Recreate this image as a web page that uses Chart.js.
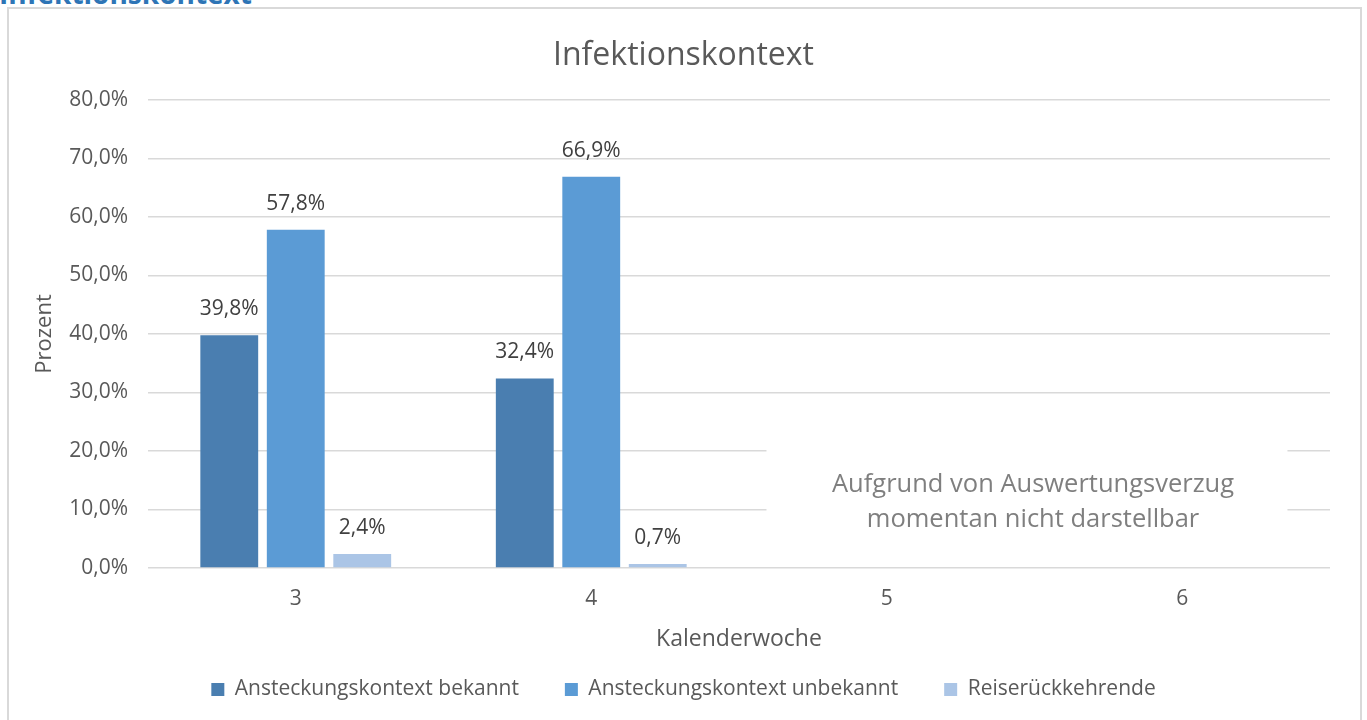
<!DOCTYPE html>
<html>
<head>
<meta charset="utf-8">
<script src="https://cdn.jsdelivr.net/npm/chart.js@4/dist/chart.umd.min.js"></script>
<style>
body{margin:0;background:#fff;overflow:hidden}
#wrap{position:relative;width:1367px;height:720px;overflow:hidden}
#frame{position:absolute;left:7px;top:7px;width:1355px;height:740px;border:2px solid #d9d9d9;box-sizing:border-box}
#head{position:absolute;left:-1px;top:-26px;font:bold 28px "Open Sans";color:#2e75b6;white-space:nowrap}
canvas{position:absolute;left:0;top:0}
</style>
</head>
<body>
<div id="wrap">
  <div id="frame"></div>
  <div id="head">Infektionskontext</div>
  <canvas id="infektion" width="1367" height="720"></canvas>
</div>
<script>
const weeks = ['3','4','5','6'];
const bekannt = [39.8, 32.4, null, null];
const unbekannt = [57.8, 66.9, null, null];
const reise = [2.4, 0.7, null, null];
const noteLines = ['Aufgrund von Auswertungsverzug', 'momentan nicht darstellbar'];

const pct = v => v.toFixed(1).replace('.', ',') + '%';
const font = '"Open Sans", sans-serif';

// labels above each bar
const barLabels = {
  id: 'barLabels',
  afterDatasetsDraw(chart) {
    const ctx = chart.ctx;
    ctx.save();
    ctx.font = '21px ' + font;
    ctx.fillStyle = '#404040';
    ctx.textAlign = 'center';
    ctx.textBaseline = 'middle';
    chart.data.datasets.forEach((ds, i) => {
      chart.getDatasetMeta(i).data.forEach((bar, j) => {
        if (ds.data[j] == null) return;
        ctx.fillText(pct(ds.data[j]), bar.x, bar.y - 26);
      });
    });
    ctx.restore();
  }
};

// white text box for weeks without data
const noteBox = {
  id: 'noteBox',
  beforeDatasetsDraw(chart) {
    const x = chart.scales.x, y = chart.scales.y, ctx = chart.ctx;
    const left = x.getPixelForValue(1.593), right = x.getPixelForValue(3.356);
    const top = y.getPixelForValue(25), bottom = y.getPixelForValue(2);
    ctx.save();
    ctx.fillStyle = '#fff';
    ctx.fillRect(left, top, right - left, bottom - top);
    ctx.font = '25.5px ' + font;
    ctx.fillStyle = '#7f7f7f';
    ctx.textAlign = 'center';
    ctx.textBaseline = 'middle';
    const cx = x.getPixelForValue(2.495);
    ctx.fillText(noteLines[0], cx, y.getPixelForValue(14.2));
    ctx.fillText(noteLines[1], cx, y.getPixelForValue(8.2));
    ctx.restore();
  }
};

new Chart(document.getElementById('infektion'), {
  type: 'bar',
  data: {
    labels: weeks,
    datasets: [
      {label: 'Ansteckungskontext bekannt', data: bekannt, backgroundColor: '#4a7eb0'},
      {label: 'Ansteckungskontext unbekannt', data: unbekannt, backgroundColor: '#5b9bd5'},
      {label: 'Reiserückkehrende', data: reise, backgroundColor: '#abc5e6'}
    ]
  },
  options: {
    responsive: false,
    animation: false,
    categoryPercentage: 0.675,
    barPercentage: 0.87,
    layout: {padding: {left: 37, right: 37, top: 10, bottom: 10}},
    plugins: {
      title: {
        display: true,
        text: 'Infektionskontext',
        color: '#595959',
        font: {family: font, size: 32, weight: 'normal'},
        padding: {top: 27, bottom: 24.6}
      },
      legend: {
        position: 'bottom',
        labels: {
          color: '#595959',
          font: {family: font, size: 21},
          boxWidth: 13,
          boxHeight: 13,
          padding: 46
        }
      },
      tooltip: {enabled: false}
    },
    scales: {
      x: {
        grid: {display: false},
        border: {display: false},
        ticks: {color: '#595959', font: {family: font, size: 21}, padding: 10},
        title: {
          display: true,
          text: 'Kalenderwoche',
          color: '#595959',
          font: {family: font, size: 23},
          padding: {top: 0, bottom: -19.8}
        },
        afterFit(scale) { scale.height = 65; }
      },
      y: {
        min: 0,
        max: 80,
        ticks: {stepSize: 10, color: '#595959', font: {family: font, size: 21}, padding: 20, callback: v => pct(v)},
        grid: {color: '#d9d9d9', lineWidth: 1.5, drawTicks: false},
        border: {display: false},
        title: {
          display: true,
          text: 'Prozent',
          color: '#595959',
          font: {family: font, size: 22},
          padding: {top: -5, bottom: 0}
        },
        afterFit(scale) { scale.width = 111; }
      }
    }
  },
  plugins: [barLabels, noteBox]
});
</script>
</body>
</html>
